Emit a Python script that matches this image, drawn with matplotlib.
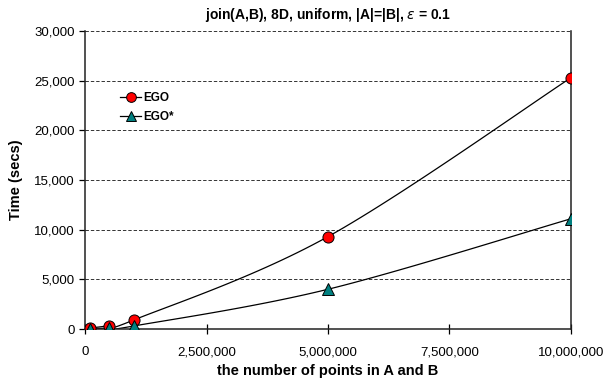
import matplotlib
matplotlib.use('Agg')
import matplotlib.pyplot as plt
from matplotlib.ticker import FuncFormatter
import numpy as np

plt.rcParams['font.family'] = ['Liberation Sans', 'DejaVu Sans']

n_points = [100000, 500000, 1000000, 5000000, 10000000]
ego = [100, 350, 900, 9300, 25300]
ego_star = [30, 100, 300, 4000, 11100]

x_ticks = [0, 2500000, 5000000, 7500000, 10000000]
y_ticks = [0, 5000, 10000, 15000, 20000, 25000, 30000]


def smooth(xs, ys, steps=30):
    # Catmull-Rom style smoothing, like Excel's "smoothed line"
    xs = np.asarray(xs, float)
    ys = np.asarray(ys, float)
    px = np.concatenate([[xs[0]], xs, [xs[-1]]])
    py = np.concatenate([[ys[0]], ys, [ys[-1]]])
    outx, outy = [], []
    for i in range(1, len(px) - 2):
        p0x, p1x, p2x, p3x = px[i - 1:i + 3]
        p0y, p1y, p2y, p3y = py[i - 1:i + 3]
        c1x = p1x + (p2x - p0x) / 6
        c1y = p1y + (p2y - p0y) / 6
        c2x = p2x - (p3x - p1x) / 6
        c2y = p2y - (p3y - p1y) / 6
        t = np.linspace(0, 1, steps)
        b0, b1, b2, b3 = (1 - t) ** 3, 3 * t * (1 - t) ** 2, 3 * t ** 2 * (1 - t), t ** 3
        outx.extend(b0 * p1x + b1 * c1x + b2 * c2x + b3 * p2x)
        outy.extend(b0 * p1y + b1 * c1y + b2 * c2y + b3 * p2y)
    return outx, outy


fig = plt.figure(figsize=(6.05, 3.79), dpi=100)
ax = fig.add_axes([85 / 605, 1 - 329 / 379, (571 - 85) / 605, (329 - 31) / 379])

for y in y_ticks[1:]:
    ax.axhline(y, color='#333333', linestyle=(0, (3.5, 2)), linewidth=0.7, zorder=1)

sx, sy = smooth(n_points, ego)
ax.plot(sx, sy, color='black', linewidth=0.9, zorder=2)
sx, sy = smooth(n_points, ego_star)
ax.plot(sx, sy, color='black', linewidth=0.9, zorder=2)

ax.plot(n_points, ego, linestyle='none', marker='o', markersize=8,
        markerfacecolor='#FF0000', markeredgecolor='black', markeredgewidth=0.7, zorder=3)
ax.plot(n_points, ego_star, linestyle='none', marker='^', markersize=8,
        markerfacecolor='#008080', markeredgecolor='black', markeredgewidth=0.7, zorder=3)

# legend handles
h1, = ax.plot([], [], color='black', linewidth=0.9, marker='o', markersize=7,
              markerfacecolor='#FF0000', markeredgecolor='black', markeredgewidth=0.7)
h2, = ax.plot([], [], color='black', linewidth=0.9, marker='^', markersize=7,
              markerfacecolor='#008080', markeredgecolor='black', markeredgewidth=0.7)
leg = ax.legend([h1, h2], ['EGO', 'EGO*'], loc='upper left', bbox_to_anchor=(0.05, 0.83),
                frameon=False, handlelength=1.8, handletextpad=0.2,
                labelspacing=0.6, prop={'weight': 'bold', 'size': 8.5})

ax.set_xlim(0, 10000000)
ax.set_ylim(0, 30000)
ax.set_xticks(x_ticks)
ax.set_yticks(y_ticks)
fmt = FuncFormatter(lambda v, p: f'{int(v):,}')
ax.xaxis.set_major_formatter(fmt)
ax.yaxis.set_major_formatter(fmt)
ax.tick_params(axis='x', direction='inout', length=7, width=0.9, labelsize=9.5, pad=9)
ax.tick_params(axis='y', direction='out', length=4, width=0.9, labelsize=9.5)

ax.spines['top'].set_visible(False)
for s in ['left', 'bottom', 'right']:
    ax.spines[s].set_linewidth(1.1)
    ax.spines[s].set_color('#222222')

ax.set_xlabel('the number of points in A and B', fontsize=10.5, fontweight='bold', labelpad=4)
ax.set_ylabel('Time (secs)', fontsize=10.5, fontweight='bold', labelpad=8)
ax.set_title(r'join(A,B), 8D, uniform, |A|=|B|, $\epsilon$ = 0.1', fontsize=10,
             fontweight='bold', pad=9)

fig.savefig('out.png', dpi=100)
